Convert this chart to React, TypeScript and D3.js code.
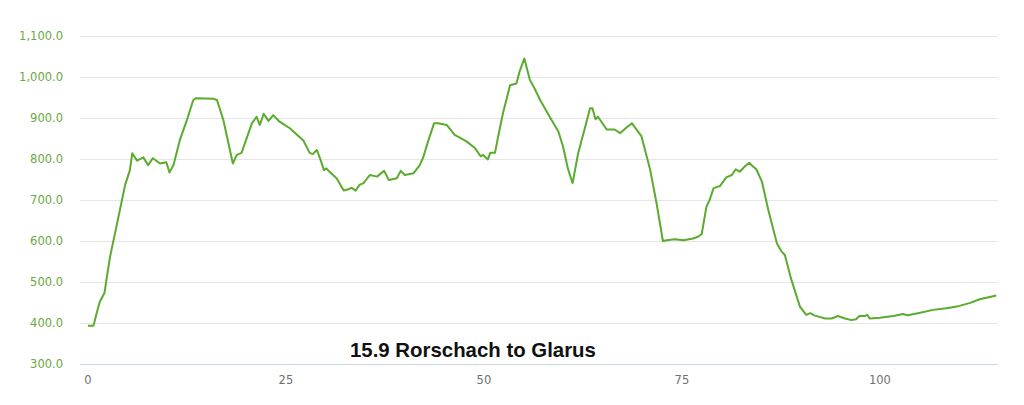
import React from "react";
import * as d3 from "d3";

const distances: number[] = [
  0, 0.7, 1.1, 1.5, 2.1, 2.4, 2.8, 3.1, 3.6, 4.3, 4.7, 5.3, 5.6, 6.2, 7.0, 7.6, 8.2, 9.1, 9.9, 10.3,
  10.8, 11.6, 12.5, 13.3, 13.6, 15.8, 16.3, 17.1, 18.3, 18.8, 19.4, 20.7, 21.3, 21.7, 22.2, 22.8, 23.4, 24.2, 25.5, 26.4,
  27.2, 28.0, 28.4, 28.9, 29.3, 29.8, 30.1, 30.6, 31.4, 32.3, 32.9, 33.3, 33.8, 34.3, 34.8, 35.6, 36.5, 37.4, 38.0, 39.0,
  39.5, 40.0, 41.1, 41.9, 42.3, 43.0, 43.7, 44.2, 45.3, 46.3, 46.9, 47.8, 48.9, 49.6, 49.9, 50.5, 50.8, 51.4, 51.8, 52.4,
  53.3, 54.1, 54.5, 55.1, 55.8, 56.4, 57.1, 58.3, 59.4, 60.0, 60.6, 61.2, 61.9, 62.8, 63.4, 63.7, 64.1, 64.4, 65.5, 66.5,
  67.2, 68.0, 68.7, 69.3, 69.9, 71.0, 71.8, 72.6, 73.1, 74.1, 75.2, 76.4, 77.1, 77.5, 78.1, 78.5, 79.0, 79.8, 80.6, 81.3,
  81.8, 82.3, 83.0, 83.5, 83.9, 84.4, 85.1, 85.9, 87.0, 87.6, 88.0, 88.8, 89.9, 90.7, 91.2, 91.8, 93.1, 93.9, 94.7, 95.6,
  96.4, 97.0, 97.4, 98.1, 98.4, 98.7, 100.0, 101.7, 102.9, 103.5, 105.1, 106.7, 108.4, 109.7, 111.4, 112.6, 114.7,
];

const elevations: number[] = [
  393, 393, 424, 452, 474, 513, 562, 590, 635, 700, 737, 773, 814, 796, 804, 785, 802, 789, 792, 767,
  785, 846, 895, 944, 948, 947, 944, 895, 789, 810, 815, 887, 903, 883, 910, 893, 907, 891, 875, 859,
  845, 815, 812, 822, 802, 773, 777, 767, 753, 723, 726, 730, 723, 737, 741, 761, 757, 771, 749, 753,
  771, 761, 765, 785, 802, 846, 887, 887, 883, 859, 853, 843, 826, 806, 810, 799, 815, 815, 855, 911,
  980, 984, 1013, 1045, 993, 972, 944, 903, 867, 830, 777, 741, 814, 879, 924, 924, 897, 903, 872, 872,
  863, 877, 887, 871, 855, 773, 692, 600, 602, 604, 602, 606, 611, 617, 684, 700, 729, 734, 755, 761,
  775, 769, 783, 791, 783, 775, 745, 676, 594, 574, 566, 507, 440, 420, 424, 418, 411, 411, 417, 411,
  407, 409, 417, 417, 420, 411, 413, 417, 422, 419, 425, 432, 436, 440, 449, 458, 467,
];

const yTicks: number[] = [300, 400, 500, 600, 700, 800, 900, 1000, 1100];
const xTicks: number[] = [0, 25, 50, 75, 100];
const chartTitle = "15.9 Rorschach to Glarus";

export default function App() {
  const width = 1024;
  const height = 405;
  const plotLeft = 80;
  const plotRight = 998.7;
  const x = d3.scaleLinear().domain([-1, 115]).range([plotLeft, plotRight]);
  const y = d3.scaleLinear().domain([300, 1100]).range([364, 36]);
  const fmt = d3.format(",.1f");
  const points: [number, number][] = distances.map((d, i) => [d, elevations[i]]);
  const line = d3
    .line<[number, number]>()
    .x((d) => x(d[0]))
    .y((d) => y(d[1]))
    .curve(d3.curveLinear);

  return (
    <div style={{ position: "absolute", left: 0, top: 0 }}>
      <svg width={width} height={height} style={{ display: "block", background: "#fff" }}>
        {yTicks.map((t) => (
          <g key={t}>
            <line
              x1={plotLeft}
              x2={998}
              y1={Math.round(y(t)) + 0.5}
              y2={Math.round(y(t)) + 0.5}
              stroke={t === 300 ? "#ccd6eb" : "#e6e6e6"}
              strokeWidth={1}
            />
            <text
              x={63}
              y={y(t)}
              dy="0.35em"
              textAnchor="end"
              fontFamily="'DejaVu Sans', Verdana, sans-serif"
              fontSize={11.5}
              fill="#6aa840"
            >
              {fmt(t)}
            </text>
          </g>
        ))}
        {xTicks.map((t) => (
          <text
            key={t}
            x={x(t)}
            y={384}
            textAnchor="middle"
            fontFamily="'DejaVu Sans', Verdana, sans-serif"
            fontSize={11.5}
            fill="#707070"
          >
            {t}
          </text>
        ))}
        <path d={line(points) || ""} fill="none" stroke="#5aab2e" strokeWidth={2} strokeLinejoin="round" />
        <text
          x={350}
          y={357}
          fontFamily="'Liberation Sans', Arial, Helvetica, sans-serif"
          fontWeight="bold"
          fontSize={20.4}
          fill="#111"
        >
          {chartTitle}
        </text>
      </svg>
    </div>
  );
}
